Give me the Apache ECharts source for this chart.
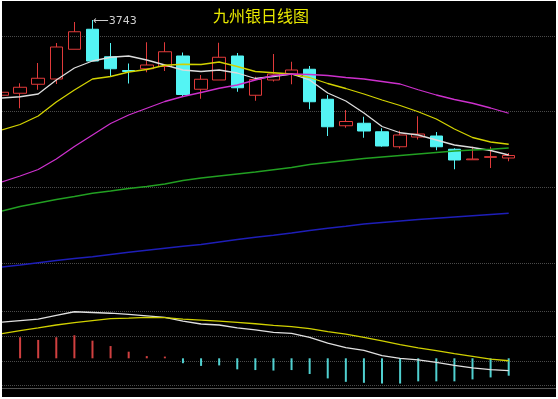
<!DOCTYPE html>
<html><head><meta charset="utf-8">
<script src="https://cdn.jsdelivr.net/npm/echarts@6/dist/echarts.min.js"></script>
<style>
html,body{margin:0;padding:0;background:#fff;width:558px;height:399px;overflow:hidden}
#c{position:absolute;left:2px;top:1px;width:554px;height:396px;}
</style>
</head><body><div id="c"></div>
<script>
const titleText = '九州银日线图';
const categories = ['1','2','3','4','5','6','7','8','9','10','11','12','13','14','15','16','17','18','19','20','21','22','23','24','25','26','27','28','29'];
// [open, close, low, high]
const ohlc = [
  [3682.8,3685.2,3682.2,3686.2],
  [3684.4,3689.2,3672.4,3692.4],
  [3691.6,3696.4,3687.2,3708.6],
  [3695.8,3721.4,3691.8,3724.6],
  [3719.6,3733.6,3719.6,3741.4],
  [3735.6,3710.2,3710.2,3743.0],
  [3713.6,3704.0,3698.0,3724.6],
  [3702.6,3701.8,3692.2,3708.2],
  [3704.0,3707.0,3701.2,3725.2],
  [3705.8,3717.6,3702.2,3725.2],
  [3714.2,3683.4,3682.0,3717.0],
  [3687.6,3695.6,3680.0,3699.0],
  [3695.0,3713.2,3695.0,3724.8],
  [3714.2,3688.8,3685.6,3716.6],
  [3682.8,3695.4,3678.4,3697.6],
  [3695.0,3699.8,3693.8,3715.8],
  [3699.8,3703.0,3691.6,3709.6],
  [3703.6,3677.6,3671.6,3706.2],
  [3679.6,3657.6,3650.2,3683.0],
  [3658.4,3661.8,3656.8,3671.0],
  [3660.4,3654.2,3648.8,3665.6],
  [3653.6,3642.2,3641.6,3656.4],
  [3641.6,3651.0,3640.2,3654.4],
  [3649.4,3651.8,3647.4,3666.0],
  [3650.2,3641.6,3638.8,3653.4],
  [3639.6,3631.0,3623.6,3640.4],
  [3631.2,3631.8,3631.2,3641.6],
  [3633.1,3633.7,3624.6,3641.6],
  [3632.6,3634.6,3630.0,3636.6]
];
const ma5 = [3680.6,3681.6,3683.8,3695.0,3704.6,3710.2,3713.2,3714.2,3711.0,3707.0,3703.0,3701.8,3703.0,3700.6,3696.2,3697.8,3699.8,3695.0,3684.6,3678.2,3668.6,3657.8,3652.8,3651.0,3647.0,3643.0,3641.0,3638.6,3635.0];
const ma10 = [3655.0,3659.4,3666.2,3677.4,3687.0,3695.8,3697.8,3701.4,3703.4,3706.8,3707.6,3707.4,3709.4,3705.8,3701.8,3700.8,3699.8,3697.0,3692.2,3688.2,3683.8,3679.0,3674.6,3669.6,3663.8,3655.8,3649.0,3645.4,3643.6];
const ma20 = [3613.4,3618.2,3623.4,3631.8,3641.8,3651.0,3660.2,3667.0,3672.4,3677.8,3681.8,3685.0,3688.4,3691.0,3695.0,3698.6,3699.8,3699.4,3698.6,3697.0,3695.8,3693.8,3691.8,3687.2,3683.0,3679.4,3676.4,3672.6,3668.4];
const ma60 = [3590.2,3593.8,3596.6,3599.4,3601.8,3604.4,3606.2,3608.2,3609.8,3611.8,3614.6,3616.6,3618.2,3619.8,3621.4,3623.2,3625.0,3627.4,3629.0,3630.6,3632.2,3633.4,3634.6,3635.8,3637.0,3638.2,3639.0,3639.6,3640.6];
const ma120 = [3545.4,3547.0,3548.8,3550.6,3552.2,3553.6,3555.4,3557.2,3558.8,3560.4,3562.0,3563.4,3565.4,3567.4,3569.2,3570.8,3572.6,3574.6,3576.4,3578.0,3579.8,3581.0,3582.2,3583.4,3584.4,3585.4,3586.4,3587.4,3588.4];
const macdHist = [null,8.6,7.5,8.6,9.4,7.2,5.0,2.7,0.9,0.7,-2.0,-3.1,-2.9,-4.5,-4.8,-5.0,-4.8,-6.4,-8.2,-9.6,-10.0,-10.3,-10.3,-9.4,-9.4,-9.4,-8.6,-7.8,-7.1];
const dif = [14.8,15.4,16.0,17.5,19.0,18.7,18.4,17.9,17.3,16.7,15.2,14.0,13.6,12.4,11.6,10.6,10.2,8.5,6.2,4.4,3.2,1.1,0.0,-0.6,-1.7,-2.9,-3.9,-4.6,-5.0];
const dea = [10.1,11.3,12.4,13.6,14.6,15.4,16.2,16.4,16.7,16.6,16.0,15.6,15.2,14.7,14.1,13.4,12.9,12.1,10.9,9.9,8.5,7.1,5.6,4.3,3.1,1.9,0.8,-0.3,-1.0];

const RED = '#e03a3a', CYAN = '#54f4f4';
const gridLine = {show:true, lineStyle:{color:'#4a4a4a', type:'dotted', width:1}};
const hidden = {show:false};
const lineS = (name, data, color, xi) => ({
  name, type:'line', data, xAxisIndex:xi, yAxisIndex:xi, symbol:'none', smooth:false,
  lineStyle:{color, width:1.3}, silent:true, animation:false, z:3
});

const chart = echarts.init(document.getElementById('c'), null, {renderer:'canvas'});
chart.setOption({
  backgroundColor:'#000',
  animation:false,
  title:{text:titleText, left:206, top:2,
    textStyle:{color:'#e8e800', fontSize:16, fontWeight:'normal', fontFamily:'Noto Sans CJK SC'}},
  grid:[
    {left:0, right:47.3, top:1, height:288},
    {left:0, right:0, top:35, height:227},
    {left:0, right:47.3, top:289, height:98},
    {left:0, right:0, top:310.7, height:73.6},
    {left:0, right:0, top:289, height:98}
  ],
  xAxis:[
    {type:'category', gridIndex:0, data:categories, boundaryGap:false, show:false},
    {type:'value', gridIndex:1, min:0, max:1, show:false},
    {type:'category', gridIndex:2, data:categories, boundaryGap:false, show:false},
    {type:'value', gridIndex:3, min:0, max:1, show:false},
    {type:'value', gridIndex:4, min:0, max:1, position:'top', axisLine:{show:true, lineStyle:{color:'#505050', width:1}}, axisTick:hidden, axisLabel:hidden, splitLine:hidden},
    {type:'value', gridIndex:4, min:0, max:1, position:'bottom', axisLine:{show:true, lineStyle:{color:'#505050', width:1}}, axisTick:hidden, axisLabel:hidden, splitLine:hidden}
  ],
  yAxis:[
    {type:'value', gridIndex:0, min:3527, max:3757.4, show:false, splitLine:hidden},
    {type:'value', gridIndex:1, min:0, max:3, interval:1, axisLine:hidden, axisTick:hidden, axisLabel:hidden, splitLine:gridLine},
    {type:'value', gridIndex:2, min:-12.12, max:27.88, show:false, splitLine:hidden},
    {type:'value', gridIndex:3, min:0, max:3, interval:1, axisLine:hidden, axisTick:hidden, axisLabel:hidden, splitLine:gridLine},
    {type:'value', gridIndex:4, min:0, max:1, show:false}
  ],
  series:[
    {
      name:'K', type:'candlestick', data:ohlc, xAxisIndex:0, yAxisIndex:0, barWidth:13,
      itemStyle:{color:'rgba(0,0,0,0)', color0:CYAN, borderColor:RED, borderColor0:CYAN, borderWidth:1},
      z:2,
      markPoint:{
        symbol:'circle', symbolSize:1, itemStyle:{color:'rgba(0,0,0,0)'},
        data:[{type:'max', valueDim:'highest'}],
        label:{show:true, position:'right', distance:0, offset:[0,1], formatter:'⟵{c}',
          color:'#cfcfcf', fontSize:11, fontFamily:'DejaVu Sans'}
      }
    },
    lineS('MA5', ma5, '#dcdcdc', 0),
    lineS('MA10', ma10, '#d2d200', 0),
    lineS('MA20', ma20, '#cc30cc', 0),
    lineS('MA60', ma60, '#22a022', 0),
    lineS('MA120', ma120, '#1e1eb8', 0),
    {
      name:'MACD', type:'bar', data:macdHist, xAxisIndex:2, yAxisIndex:2, barWidth:2, silent:true,
      itemStyle:{color:(p)=> p.value >= 0 ? '#d04040' : '#50d0d0'}
    },
    lineS('DIF', dif, '#e0e0e0', 2),
    lineS('DEA', dea, '#d0d000', 2)
  ]
});
</script>
</body></html>
